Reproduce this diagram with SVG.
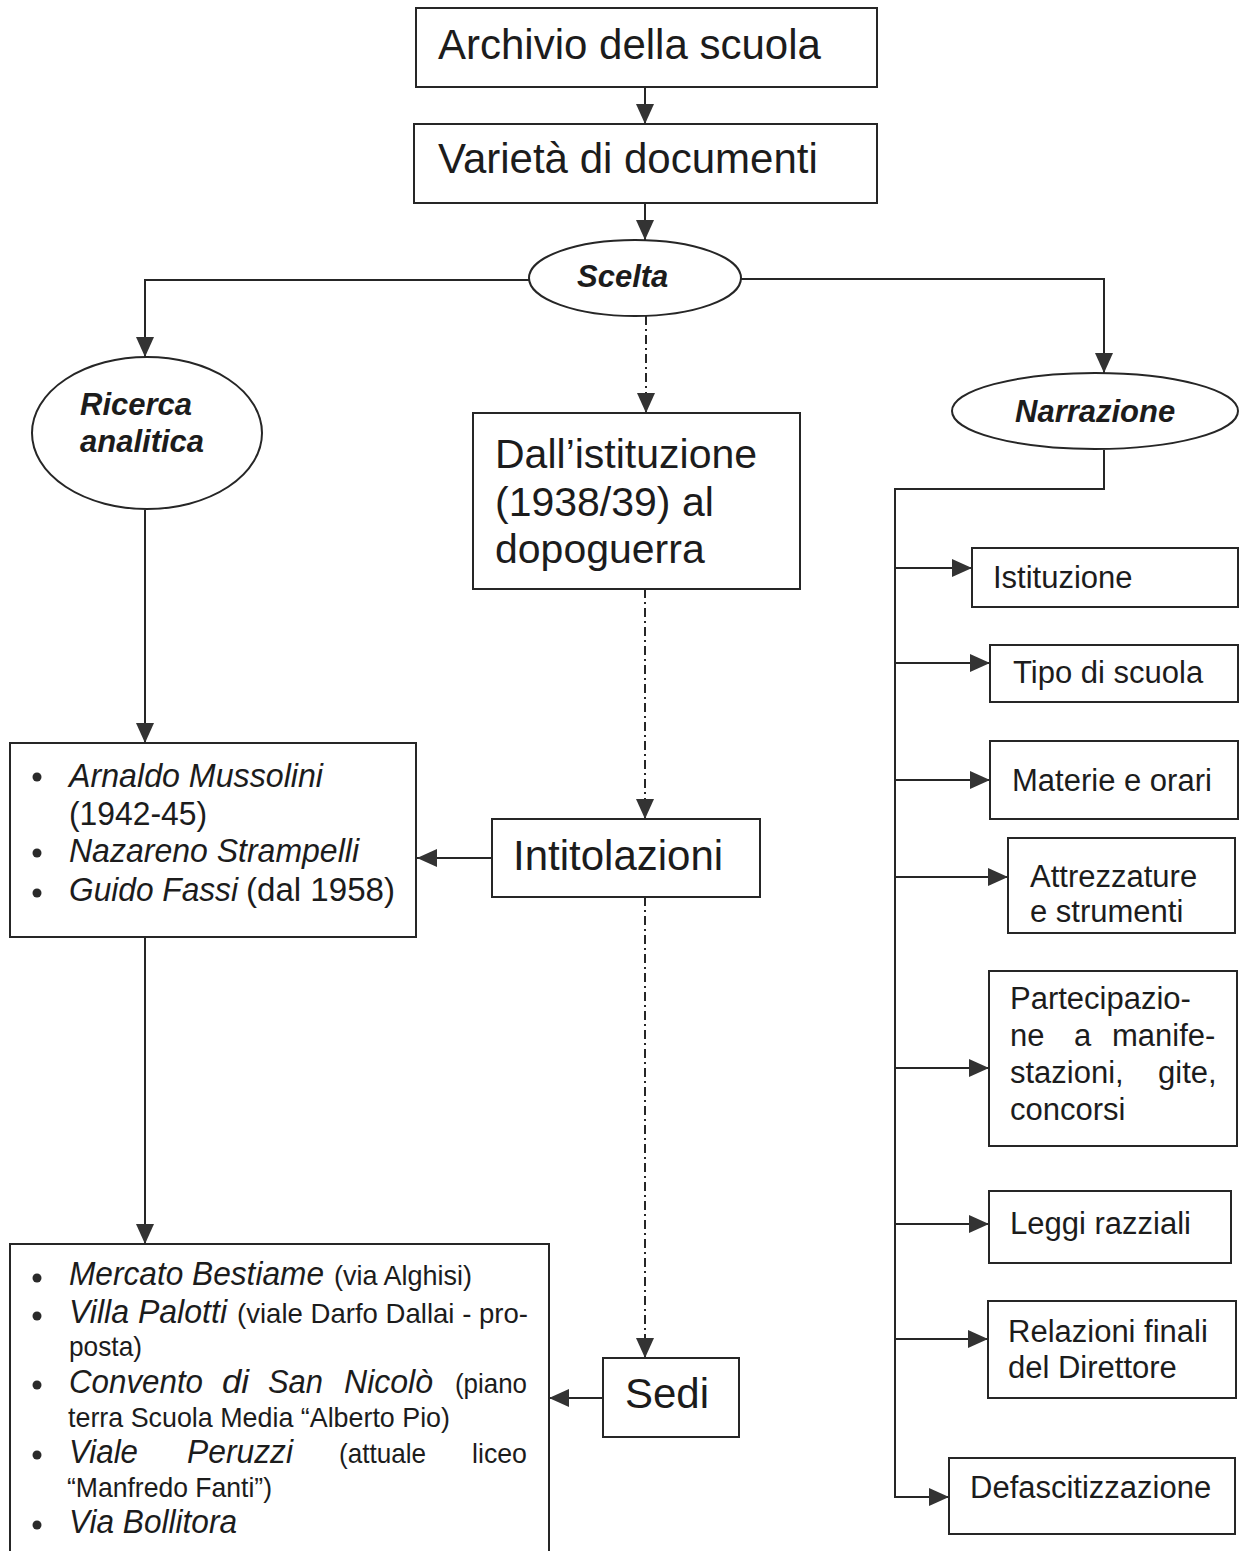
<svg xmlns="http://www.w3.org/2000/svg" width="1239" height="1551" viewBox="0 0 1239 1551">
<style>
.bx{fill:#fff;stroke:#262626;stroke-width:2}
.ln{fill:none;stroke:#262626;stroke-width:2}
.dd{fill:none;stroke:#262626;stroke-width:2;stroke-dasharray:9 4 2 4}
text{font-family:"Liberation Sans",Arial,sans-serif;fill:#1c1c1c}
.big{font-size:42px}
.mid{font-size:41px}
.r{font-size:31px}
.bi{font-size:31px;font-weight:bold;font-style:italic}
.it{font-size:34px;font-style:italic}
.rg{font-size:34px}
.sm{font-size:28px}
.bul{fill:#2a2a2a}
</style>
<defs>
<marker id="ah" markerUnits="userSpaceOnUse" markerWidth="20" markerHeight="18" refX="20" refY="9" orient="auto">
<path d="M0,0 L20,9 L0,18 Z" fill="#333"/>
</marker>
</defs>
<rect width="1239" height="1551" fill="#fff"/>

<g id="connectors">
<path class="ln" d="M645,87 L645,124" marker-end="url(#ah)"/>
<path class="ln" d="M645,203 L645,240" marker-end="url(#ah)"/>
<path class="ln" d="M529,280 L145,280 L145,357" marker-end="url(#ah)"/>
<path class="ln" d="M741,279 L1104,279 L1104,373" marker-end="url(#ah)"/>
<path class="dd" d="M646,316 L646,413" marker-end="url(#ah)"/>
<path class="dd" d="M645,589 L645,819" marker-end="url(#ah)"/>
<path class="ln" d="M492,858 L417,858" marker-end="url(#ah)"/>
<path class="dd" d="M645,897 L645,1358" marker-end="url(#ah)"/>
<path class="ln" d="M603,1398 L549,1398" marker-end="url(#ah)"/>
<path class="ln" d="M145,510 L145,743" marker-end="url(#ah)"/>
<path class="ln" d="M145,937 L145,1244" marker-end="url(#ah)"/>
<path class="ln" d="M1104,450 L1104,489 L895,489 L895,1497 L949,1497" marker-end="url(#ah)"/>
<path class="ln" d="M895,568 L972,568" marker-end="url(#ah)"/>
<path class="ln" d="M895,663 L990,663" marker-end="url(#ah)"/>
<path class="ln" d="M895,780 L990,780" marker-end="url(#ah)"/>
<path class="ln" d="M895,877 L1008,877" marker-end="url(#ah)"/>
<path class="ln" d="M895,1068 L989,1068" marker-end="url(#ah)"/>
<path class="ln" d="M895,1224 L989,1224" marker-end="url(#ah)"/>
<path class="ln" d="M895,1339 L988,1339" marker-end="url(#ah)"/>
</g>

<g id="archivio">
<rect class="bx" x="416" y="8" width="461" height="79"/>
<text class="big" x="438" y="59">Archivio della scuola</text>
</g>
<g id="varieta">
<rect class="bx" x="414" y="124" width="463" height="79"/>
<text class="big" x="438" y="173">Varietà di documenti</text>
</g>
<g id="scelta">
<ellipse class="bx" cx="635" cy="278" rx="106" ry="38"/>
<text class="bi" x="577" y="287">Scelta</text>
</g>
<g id="ricerca">
<ellipse class="bx" cx="147" cy="433" rx="115" ry="76"/>
<text class="bi" x="80" y="415">Ricerca</text>
<text class="bi" x="80" y="452">analitica</text>
</g>
<g id="narrazione">
<ellipse class="bx" cx="1095" cy="411" rx="143" ry="38"/>
<text class="bi" x="1015" y="422">Narrazione</text>
</g>
<g id="dallistituzione">
<rect class="bx" x="473" y="413" width="327" height="176"/>
<text class="mid" x="495" y="468">Dall’istituzione</text>
<text class="mid" x="495" y="516">(1938/39) al</text>
<text class="mid" x="495" y="563">dopoguerra</text>
</g>
<g id="intitolazioni">
<rect class="bx" x="492" y="819" width="268" height="78"/>
<text class="big" x="513" y="870">Intitolazioni</text>
</g>
<g id="nomi">
<rect class="bx" x="10" y="743" width="406" height="194"/>
<circle class="bul" cx="37" cy="777" r="4.5"/>
<circle class="bul" cx="37" cy="853" r="4.5"/>
<circle class="bul" cx="37" cy="893" r="4.5"/>
<text class="it" x="69" y="787" textLength="254" lengthAdjust="spacingAndGlyphs">Arnaldo Mussolini</text>
<text class="rg" x="69" y="825" textLength="138" lengthAdjust="spacingAndGlyphs">(1942-45)</text>
<text class="it" x="69" y="862" textLength="290" lengthAdjust="spacingAndGlyphs">Nazareno Strampelli</text>
<text class="it" x="69" y="901" textLength="169" lengthAdjust="spacingAndGlyphs">Guido Fassi</text>
<text class="rg" x="246" y="901" textLength="149" lengthAdjust="spacingAndGlyphs">(dal 1958)</text>
</g>
<g id="sedi">
<rect class="bx" x="603" y="1358" width="136" height="79"/>
<text class="big" x="625" y="1408">Sedi</text>
</g>
<g id="luoghi">
<rect class="bx" x="10" y="1244" width="539" height="330"/>
<circle class="bul" cx="37" cy="1278" r="4.5"/>
<circle class="bul" cx="37" cy="1316" r="4.5"/>
<circle class="bul" cx="37" cy="1385" r="4.5"/>
<circle class="bul" cx="37" cy="1455" r="4.5"/>
<circle class="bul" cx="37" cy="1525" r="4.5"/>
<text class="it" x="69" y="1285" textLength="255" lengthAdjust="spacingAndGlyphs">Mercato Bestiame</text>
<text class="sm" x="334" y="1285" textLength="138" lengthAdjust="spacingAndGlyphs">(via Alghisi)</text>
<text class="it" x="69" y="1323" textLength="158" lengthAdjust="spacingAndGlyphs">Villa Palotti</text>
<text class="sm" x="237" y="1323" textLength="291" lengthAdjust="spacingAndGlyphs">(viale Darfo Dallai - pro-</text>
<text class="sm" x="69" y="1356" textLength="73" lengthAdjust="spacingAndGlyphs">posta)</text>
<text class="it" x="69" y="1393" textLength="134" lengthAdjust="spacingAndGlyphs">Convento</text>
<text class="it" x="222" y="1393" textLength="27" lengthAdjust="spacingAndGlyphs">di</text>
<text class="it" x="268" y="1393" textLength="55" lengthAdjust="spacingAndGlyphs">San</text>
<text class="it" x="344" y="1393" textLength="89" lengthAdjust="spacingAndGlyphs">Nicolò</text>
<text class="sm" x="455" y="1393" textLength="72" lengthAdjust="spacingAndGlyphs">(piano</text>
<text class="sm" x="68" y="1427" textLength="382" lengthAdjust="spacingAndGlyphs">terra Scuola Media “Alberto Pio)</text>
<text class="it" x="69" y="1463" textLength="69" lengthAdjust="spacingAndGlyphs">Viale</text>
<text class="it" x="187" y="1463" textLength="106" lengthAdjust="spacingAndGlyphs">Peruzzi</text>
<text class="sm" x="339" y="1463" textLength="87" lengthAdjust="spacingAndGlyphs">(attuale</text>
<text class="sm" x="472" y="1463" textLength="55" lengthAdjust="spacingAndGlyphs">liceo</text>
<text class="sm" x="67" y="1497" textLength="205" lengthAdjust="spacingAndGlyphs">“Manfredo Fanti”)</text>
<text class="it" x="69" y="1533" textLength="168" lengthAdjust="spacingAndGlyphs">Via Bollitora</text>
</g>
<g id="istituzione">
<rect class="bx" x="972" y="548" width="266" height="59"/>
<text class="r" x="993" y="588">Istituzione</text>
</g>
<g id="tipo">
<rect class="bx" x="990" y="645" width="248" height="57"/>
<text class="r" x="1013" y="683">Tipo di scuola</text>
</g>
<g id="materie">
<rect class="bx" x="990" y="741" width="248" height="78"/>
<text class="r" x="1012" y="791">Materie e orari</text>
</g>
<g id="attrezzature">
<rect class="bx" x="1008" y="838" width="227" height="95"/>
<text class="r" x="1030" y="887">Attrezzature</text>
<text class="r" x="1030" y="922">e strumenti</text>
</g>
<g id="partecipazione">
<rect class="bx" x="989" y="971" width="248" height="175"/>
<text class="r" x="1010" y="1009">Partecipazio-</text>
<text class="r" y="1046"><tspan x="1010">ne</tspan><tspan x="1074">a</tspan><tspan x="1112">manife-</tspan></text>
<text class="r" y="1083"><tspan x="1010">stazioni,</tspan><tspan x="1158">gite,</tspan></text>
<text class="r" x="1010" y="1120">concorsi</text>
</g>
<g id="leggi">
<rect class="bx" x="989" y="1191" width="242" height="72"/>
<text class="r" x="1010" y="1234">Leggi razziali</text>
</g>
<g id="relazioni">
<rect class="bx" x="988" y="1301" width="248" height="97"/>
<text class="r" x="1008" y="1342">Relazioni finali</text>
<text class="r" x="1008" y="1378">del Direttore</text>
</g>
<g id="defascitizzazione">
<rect class="bx" x="949" y="1458" width="286" height="76"/>
<text class="r" x="970" y="1498">Defascitizzazione</text>
</g>
</svg>
